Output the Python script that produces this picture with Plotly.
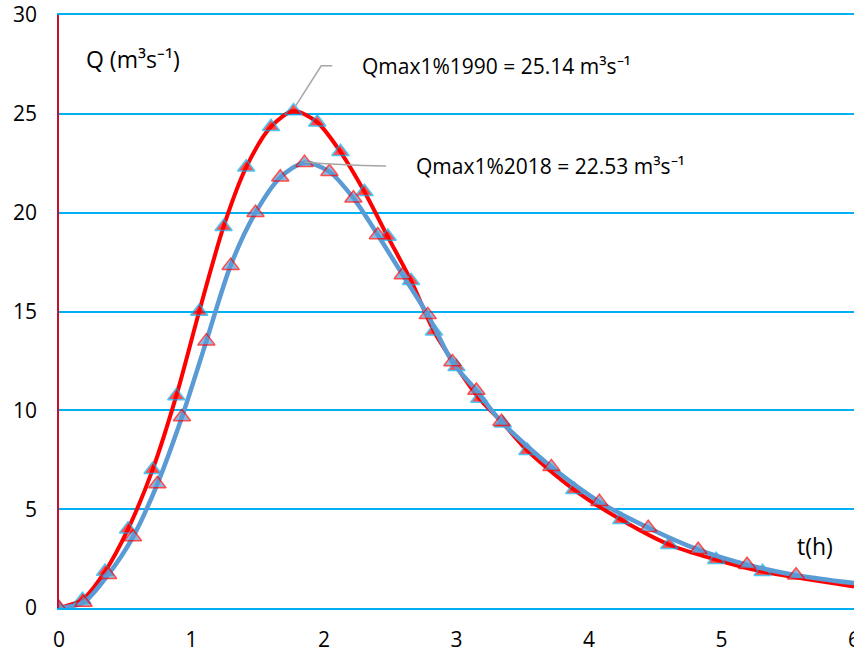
import numpy as np
import plotly.graph_objects as go

# ---- data ----
t_1990 = [0, 0.177, 0.348, 0.521, 0.706, 0.885, 1.058, 1.242, 1.413, 1.600, 1.770,
          1.949, 2.124, 2.305, 2.481, 2.657, 2.830, 3.000, 3.172, 3.350, 3.535,
          3.889, 4.243, 4.605, 4.960, 5.310, 6.0]
q_1990 = [0, 0.42, 1.85, 3.99, 6.99, 10.73, 15.0, 19.29, 22.30, 24.35, 25.14,
          24.57, 23.08, 21.06, 18.79, 16.56, 14.0, 12.2, 10.6, 9.35, 7.96,
          5.98, 4.46, 3.20, 2.44, 1.84, 1.09]
marker_1990 = [True] * 26 + [False]

t_2018 = [0, 0.185, 0.370, 0.558, 0.742, 0.928, 1.112, 1.295, 1.483, 1.670, 1.853,
          2.041, 2.222, 2.406, 2.594, 2.783, 2.969, 3.150, 3.339, 3.716,
          4.078, 4.447, 4.824, 5.193, 5.563, 6.0]
q_2018 = [0, 0.28, 1.68, 3.59, 6.27, 9.66, 13.5, 17.32, 20.0, 21.79, 22.53,
          22.07, 20.73, 18.87, 16.85, 14.83, 12.45, 11.0, 9.42, 7.14,
          5.37, 4.06, 2.95, 2.19, 1.66, 1.26]
marker_2018 = [True] * 25 + [False]

x_ticks = [0, 1, 2, 3, 4, 5, 6]
y_ticks = [0, 5, 10, 15, 20, 25, 30]

label_1990 = "Qmax1%1990 = 25.14 m³s⁻¹"
label_2018 = "Qmax1%2018 = 22.53 m³s⁻¹"
y_title = "Q (m³s⁻¹)"
x_title = "t(h)"

FONT = "Open Sans"
RED = "#FF0000"
CYAN = "#00B0F0"
STEEL = "#5B9BD5"
GRAY = "#A6A6A6"

fig = go.Figure()

fig.add_trace(go.Scatter(
    x=t_1990, y=q_1990, mode="lines+markers",
    line=dict(color=RED, width=4, shape="spline", smoothing=0.8),
    marker=dict(symbol="triangle-up", size=[15 if m else 0 for m in marker_1990],
                color=RED, line=dict(color=CYAN, width=1.5)),
    showlegend=False, hoverinfo="skip"))

fig.add_trace(go.Scatter(
    x=t_2018, y=q_2018, mode="lines+markers",
    line=dict(color=STEEL, width=4.5, shape="spline", smoothing=0.8),
    marker=dict(symbol="triangle-up", size=[15 if m else 0 for m in marker_2018],
                color=STEEL, line=dict(color=RED, width=1.5)),
    showlegend=False, hoverinfo="skip"))

# leader lines from the peaks
i1 = int(np.argmax(q_1990))
i2 = int(np.argmax(q_2018))
fig.add_shape(type="path", xref="x", yref="y",
              path=f"M {t_1990[i1]+0.01},{q_1990[i1]+0.2} L 1.979,27.43 L 2.062,27.43",
              line=dict(color=GRAY, width=1.5))
fig.add_shape(type="path", xref="x", yref="y",
              path=f"M {t_2018[i2]},{q_2018[i2]+0.03} Q 2.1,22.4 2.469,22.36",
              line=dict(color=GRAY, width=1.5))

fig.add_annotation(x=2.27, y=27.42, xref="x", yref="y", text=label_1990,
                   showarrow=False, xanchor="left", yanchor="middle",
                   font=dict(family=FONT, size=21, color="black"))
fig.add_annotation(x=2.68, y=22.36, xref="x", yref="y", text=label_2018,
                   showarrow=False, xanchor="left", yanchor="middle",
                   font=dict(family=FONT, size=21, color="black"))
fig.add_annotation(x=0.19, y=27.75, xref="x", yref="y", text=y_title,
                   showarrow=False, xanchor="left", yanchor="middle",
                   font=dict(family=FONT, size=23, color="black"))
fig.add_annotation(x=5.555, y=3.15, xref="x", yref="y", text=x_title,
                   showarrow=False, xanchor="left", yanchor="middle",
                   font=dict(family=FONT, size=23, color="black"))

fig.update_layout(
    width=854, height=651,
    margin=dict(l=59, r=0, t=15, b=43, autoexpand=False),
    paper_bgcolor="white", plot_bgcolor="white",
    font=dict(family=FONT, size=21, color="black"),
    xaxis=dict(range=[0, 6], tickvals=x_ticks, ticktext=[str(v) for v in x_ticks],
               showgrid=False, zeroline=False,
               showline=True, linecolor=CYAN, linewidth=2, mirror=True,
               ticks="", ticklabelstandoff=12, automargin=False,
               ticklabeloverflow="allow",
               tickfont=dict(family=FONT, size=21, color="black")),
    yaxis=dict(range=[0, 30], tickvals=y_ticks, ticktext=[str(v) for v in y_ticks],
               showgrid=True, gridcolor=CYAN, gridwidth=2,
               zeroline=False, showline=True, linecolor="#C8102E", linewidth=1.5,
               ticks="", ticklabelstandoff=16, automargin=False,
               ticklabeloverflow="allow",
               tickfont=dict(family=FONT, size=21, color="black")),
)

# remove the default 8px page margin so the figure fills the window like the reference
fig.write_html("out.html",
               config={"displayModeBar": False},
               post_script="document.body.style.margin='0';document.body.style.overflow='hidden';")
